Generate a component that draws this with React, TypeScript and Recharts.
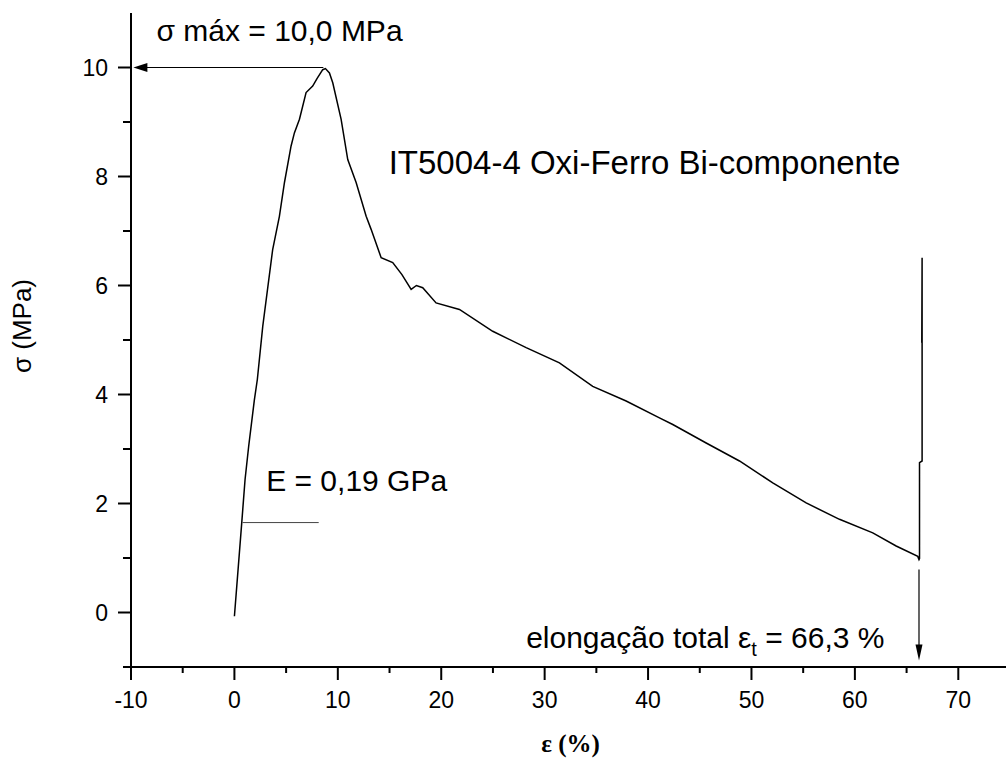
import React from 'react';
import { LineChart, Line, XAxis, YAxis, ReferenceLine, ReferenceDot } from 'recharts';

const FONT = "Arial, 'Liberation Sans', sans-serif";
const SERIF = "'Times New Roman', 'Liberation Serif', serif";

// strain ε (%)
const strain = [
  0, 0.71, 1.03, 1.38, 1.93, 2.22, 2.74, 3.7, 4.35, 4.84, 5.48, 5.8, 6.29, 6.93, 7.57, 8.0, 8.54, 8.8,
  9.19, 9.51, 10.32, 10.96, 11.77, 12.74, 13.22, 14.19, 15.31, 16.2, 17.09, 17.6, 18.21, 19.5, 21.76,
  24.98, 28.21, 31.43, 34.65, 37.88, 41.1, 42.39, 45.62, 48.84, 52.06, 55.29, 58.51, 61.73, 63.99,
  66.08, 66.2, 66.25, 66.25, 66.5, 66.5, 66.47,
];
// stress σ (MPa)
const stress = [
  -0.07, 1.65, 2.44, 3.05, 3.9, 4.28, 5.25, 6.66, 7.27, 7.89, 8.56, 8.8, 9.05, 9.54, 9.66, 9.8, 9.96, 9.98,
  9.9, 9.72, 9.05, 8.31, 7.89, 7.27, 7.03, 6.51, 6.42, 6.2, 5.93, 6.0, 5.96, 5.68, 5.56,
  5.16, 4.86, 4.58, 4.15, 3.88, 3.57, 3.45, 3.11, 2.78, 2.38, 2.01, 1.71, 1.46, 1.22,
  1.03, 0.97, 0.99, 2.75, 2.78, 6.51, 4.95,
];

const xMajorTicks = [-10, 0, 10, 20, 30, 40, 50, 60, 70];
const xMinorTicks = [-5, 5, 15, 25, 35, 45, 55, 65, 75];
const yMajorTicks = [0, 2, 4, 6, 8, 10];
const yMinorTicks = [-1, 1, 3, 5, 7, 9];

const data = strain.map((x, i) => ({ x, y: stress[i] }));
const xTicks = [...xMajorTicks, ...xMinorTicks].sort((a, b) => a - b);
const yTicks = [...yMajorTicks, ...yMinorTicks].sort((a, b) => a - b);

const XTick = (props: any) => {
  const { x, y, payload } = props;
  const major = xMajorTicks.includes(payload.value);
  return (
    <g>
      <line x1={x} y1={y} x2={x} y2={y + (major ? 13 : 6)} stroke="#000" strokeWidth={2} />
      {major && (
        <text x={x} y={y + 41} textAnchor="middle" fontSize={23} fontFamily={FONT} fill="#000">
          {payload.value}
        </text>
      )}
    </g>
  );
};

const YTick = (props: any) => {
  const { x, y, payload } = props;
  const major = yMajorTicks.includes(payload.value);
  return (
    <g>
      <line x1={x - (major ? 13 : 8)} y1={y} x2={x} y2={y} stroke="#000" strokeWidth={2} />
      {major && (
        <text x={x - 23} y={y + 8} textAnchor="end" fontSize={23} fontFamily={FONT} fill="#000">
          {payload.value}
        </text>
      )}
    </g>
  );
};

const textShape = (content: React.ReactNode, size: number) => (p: any) => (
  <text x={p.cx} y={p.cy} fontSize={size} fontFamily={FONT} fill="#000">
    {content}
  </text>
);

const leftArrow = (p: any) => (
  <polygon points={`${p.cx},${p.cy} ${p.cx + 14},${p.cy - 4.5} ${p.cx + 14},${p.cy + 4.5}`} fill="#000" />
);
const downArrow = (p: any) => (
  <polygon points={`${p.cx},${p.cy} ${p.cx - 3.5},${p.cy - 16} ${p.cx + 3.5},${p.cy - 16}`} fill="#000" />
);

export default function App() {
  return (
    <div style={{ position: 'absolute', left: 0, top: 0, width: 1006, height: 763, overflow: 'hidden', background: '#fff' }}>
      <LineChart width={1012} height={763} data={data} margin={{ top: 13, right: 2, bottom: 0, left: 0 }}>
        <XAxis
          type="number"
          dataKey="x"
          domain={[-10, 75]}
          ticks={xTicks}
          interval={0}
          allowDataOverflow
          height={96}
          tickSize={0}
          tickMargin={0}
          tickLine={false}
          axisLine={{ stroke: '#000', strokeWidth: 2 }}
          tick={<XTick />}
          label={{
            content: (lp: any) => {
              const vb = lp.viewBox;
              return (
                <text x={vb.x + vb.width / 2} y={vb.y + 85} textAnchor="middle" fontSize={25} fontWeight="bold" fontFamily={SERIF} fill="#000">
                  ε (%)
                </text>
              );
            },
          }}
        />
        <YAxis
          type="number"
          domain={[-1, 11]}
          ticks={yTicks}
          interval={0}
          allowDataOverflow
          width={131}
          tickSize={0}
          tickMargin={0}
          tickLine={false}
          axisLine={{ stroke: '#000', strokeWidth: 2 }}
          tick={<YTick />}
          label={{
            content: (lp: any) => {
              const vb = lp.viewBox;
              const cx = 31;
              const cy = vb.y + vb.height / 2 - 14;
              return (
                <text x={cx} y={cy} textAnchor="middle" fontSize={26} fontFamily={FONT} fill="#000" transform={`rotate(-90 ${cx} ${cy})`}>
                  σ (MPa)
                </text>
              );
            },
          }}
        />
        <ReferenceLine segment={[{ x: 8.6, y: 10 }, { x: -9.2, y: 10 }]} stroke="#000" strokeWidth={1.2} />
        <ReferenceDot x={-9.77} y={10} r={1} shape={leftArrow} />
        <ReferenceLine segment={[{ x: 0.8, y: 1.65 }, { x: 8.15, y: 1.65 }]} stroke="#444" strokeWidth={1} />
        <ReferenceLine segment={[{ x: 66.2, y: 0.79 }, { x: 66.2, y: -0.7 }]} stroke="#000" strokeWidth={1.2} />
        <ReferenceDot x={66.2} y={-0.88} r={1} shape={downArrow} />
        <ReferenceDot x={-7.54} y={10.485} r={1} shape={textShape('σ máx = 10,0 MPa', 30)} />
        <ReferenceDot x={14.92} y={8.04} r={1} shape={textShape('IT5004-4 Oxi-Ferro Bi-componente', 33)} />
        <ReferenceDot x={3.07} y={2.23} r={1} shape={textShape('E = 0,19 GPa', 30)} />
        <ReferenceDot
          x={28.21}
          y={-0.65}
          r={1}
          shape={textShape(
            <>
              elongação total ε
              <tspan fontSize={20} dy={8}>t</tspan>
              <tspan dy={-8}> = 66,3 %</tspan>
            </>,
            30,
          )}
        />
        <Line dataKey="y" type="linear" dot={false} stroke="#000" strokeWidth={1.5} isAnimationActive={false} />
      </LineChart>
    </div>
  );
}
